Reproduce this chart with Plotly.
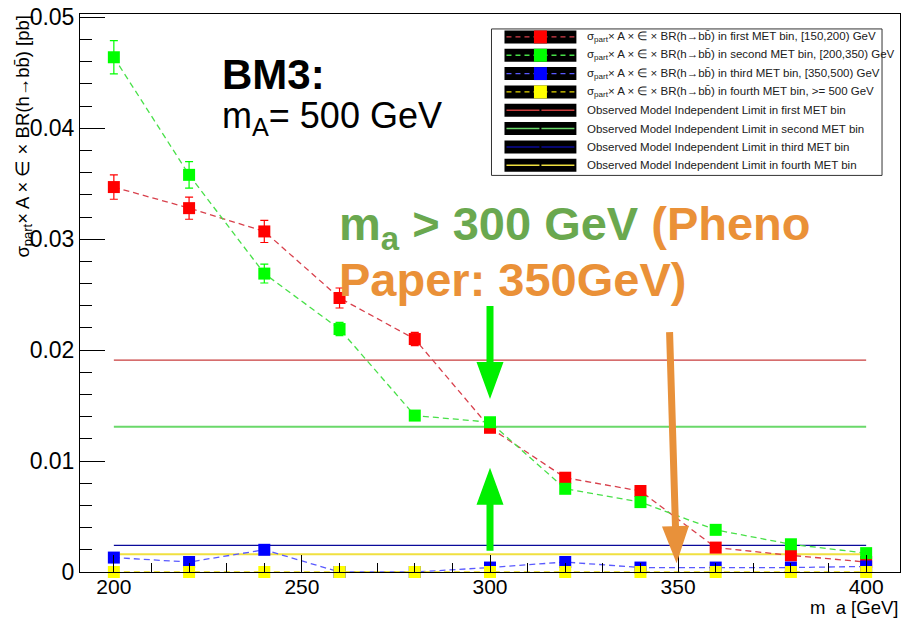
import numpy as np
import plotly.graph_objects as go

# ---- data -------------------------------------------------------------
mass = [200, 220, 240, 260, 280, 300, 320, 340, 360, 380, 400]

xs_bin1 = [0.0347, 0.0328, 0.0307, 0.0247, 0.0210, 0.0130, 0.0085, 0.0073, 0.0022, 0.0015, 0.0009]
err_bin1 = [0.0011, 0.0010, 0.0010, 0.0009, 0.0006, 0.0003, 0.0002, 0.0002, 0.0001, 0.0001, 0.0001]

xs_bin2 = [0.0464, 0.0358, 0.0269, 0.0219, 0.0141, 0.0135, 0.0075, 0.0063, 0.0038, 0.0025, 0.0017]
err_bin2 = [0.0015, 0.0012, 0.00085, 0.0006, 0.0003, 0.0003, 0.0002, 0.0002, 0.0001, 0.0001, 0.0001]

xs_bin3 = [0.0013, 0.0009, 0.0020, 0.0000, 0.0000, 0.0004, 0.0009, 0.0004, 0.0004, 0.0004, 0.0005]
err_bin3 = [0.0002, 0.0002, 0.0002, 0.0000, 0.0000, 0.0002, 0.0002, 0.0001, 0.0001, 0.0001, 0.0001]

xs_bin4 = [0.0, 0.0, 0.0, 0.0, 0.0, 0.0, 0.0, 0.0, 0.0, 0.0, 0.0]
err_bin4 = [0.0] * 11

obs_limits = [0.0191, 0.0131, 0.0024, 0.0016]

series_labels = [
    "σ<sub>part</sub>× A × ∈ × BR(h→bb̄) in first MET bin, [150,200) GeV",
    "σ<sub>part</sub>× A × ∈ × BR(h→bb̄) in second MET bin, [200,350) GeV",
    "σ<sub>part</sub>× A × ∈ × BR(h→bb̄) in third MET bin, [350,500) GeV",
    "σ<sub>part</sub>× A × ∈ × BR(h→bb̄) in fourth MET bin, >= 500 GeV",
]
limit_labels = [
    "Observed Model Independent Limit in first MET bin",
    "Observed Model Independent Limit in second MET bin",
    "Observed Model Independent Limit in third MET bin",
    "Observed Model Independent Limit in fourth MET bin",
]

x_ticks = [200, 250, 300, 350, 400]
y_ticks = [0, 0.01, 0.02, 0.03, 0.04, 0.05]
y_ticktext = ["0", "0.01", "0.02", "0.03", "0.04", "0.05"]

# ---- styles -----------------------------------------------------------
marker_colors = ["#ff0000", "#00ff00", "#0000ff", "#ffff00"]
dash_colors = ["#d8404c", "#48e048", "#5a5aff", "#e8d800"]
limit_colors = ["#c83c3c", "#6ad86a", "#0a0a9a", "#f0e040"]
limit_widths = [1.3, 2, 1.3, 2]

FONT = "Liberation Sans, Arial, sans-serif"

W, H = 905, 620
L, R, T, B = 80, 4, 12, 48
PW, PH = W - L - R, H - T - B


def px(x):
    return (x - L) / PW


def py(y):
    return (H - B - y) / PH


fig = go.Figure()

# observed limits (horizontal lines across the mass range)
for lim, col, lw in zip(obs_limits, limit_colors, limit_widths):
    fig.add_trace(go.Scatter(
        x=[mass[0], mass[-1]], y=[lim, lim], mode="lines",
        line=dict(color=col, width=lw), hoverinfo="skip", showlegend=False))

# cross-section curves
for ys, es, mc, dc in zip([xs_bin1, xs_bin2, xs_bin3, xs_bin4],
                          [err_bin1, err_bin2, err_bin3, err_bin4],
                          marker_colors, dash_colors):
    fig.add_trace(go.Scatter(
        x=mass, y=ys, mode="lines+markers", cliponaxis=False,
        line=dict(color=dc, width=1.3, dash="6px,4px"),
        marker=dict(symbol="square", size=12, color=mc, line=dict(width=0)),
        error_y=dict(type="data", array=es, visible=True, color=mc,
                     thickness=1.2, width=4),
        showlegend=False))

# ---- legend box drawn by hand -----------------------------------------
shapes = []
annotations = []
lx0, lx1, ly0, ly1 = 492, 883, 27, 174
shapes.append(dict(type="rect", xref="paper", yref="paper",
                   x0=px(lx0), x1=px(lx1), y0=py(ly1), y1=py(ly0),
                   line=dict(color="#333333", width=1), fillcolor="white", layer="above"))
row_y = [35 + i * 18.4 for i in range(8)]
sx0, sx1, sq = 505, 577, 541
for i, yc in enumerate(row_y):
    shapes.append(dict(type="rect", xref="paper", yref="paper",
                       x0=px(sx0), x1=px(sx1), y0=py(yc + 6.5), y1=py(yc - 6.5),
                       line=dict(width=0), fillcolor="black", layer="above"))
    if i < 4:
        shapes.append(dict(type="line", xref="paper", yref="paper",
                           x0=px(sx0 + 2), x1=px(sx1 - 2), y0=py(yc), y1=py(yc),
                           line=dict(color=dash_colors[i], width=1.3, dash="5px,4px"),
                           layer="above"))
        shapes.append(dict(type="rect", xref="paper", yref="paper",
                           x0=px(sq - 6.5), x1=px(sq + 6.5), y0=py(yc + 6.5), y1=py(yc - 6.5),
                           line=dict(width=0), fillcolor=marker_colors[i], layer="above"))
        label = series_labels[i]
    else:
        j = i - 4
        for a, b in [(sx0 + 2, sq - 1), (sq + 1, sx1 - 2)]:
            shapes.append(dict(type="line", xref="paper", yref="paper",
                               x0=px(a), x1=px(b), y0=py(yc), y1=py(yc),
                               line=dict(color=limit_colors[j], width=1.5), layer="above"))
        label = limit_labels[j]
    annotations.append(dict(x=px(586), y=py(yc), xref="paper", yref="paper",
                            text=label, showarrow=False, xanchor="left", yanchor="middle",
                            font=dict(family=FONT, size=11.5, color="#202020")))

# ---- arrows -----------------------------------------------------------
def arrow_path(dx, dy, head_len, head_w, shaft_w):
    """Filled arrow in pixels, tip at the origin, tail at (dx, dy), y up."""
    length = np.hypot(dx, dy)
    ux, uy = dx / length, dy / length
    nx, ny = -uy, ux
    bx, by = ux * head_len, uy * head_len
    pts = [(0, 0),
           (bx + nx * head_w / 2, by + ny * head_w / 2),
           (bx + nx * shaft_w / 2, by + ny * shaft_w / 2),
           (dx + nx * shaft_w / 2, dy + ny * shaft_w / 2),
           (dx - nx * shaft_w / 2, dy - ny * shaft_w / 2),
           (bx - nx * shaft_w / 2, by - ny * shaft_w / 2),
           (bx - nx * head_w / 2, by - ny * head_w / 2)]
    return "M" + " L".join(f"{x:.1f},{y:.1f}" for x, y in pts) + " Z"


arrows = [
    # (anchor x, anchor y, tail dx, tail dy, colour)
    (300, 0.0156, 0, 93, "#00f000"),
    (300, 0.0094, 0, -83, "#00f000"),
    (349.6, 0.0008, -7, 231, "#e8913a"),
]
for ax_, ay_, dx, dy, col in arrows:
    shapes.append(dict(type="path", xref="x", yref="y",
                       xsizemode="pixel", ysizemode="pixel",
                       xanchor=ax_, yanchor=ay_,
                       path=arrow_path(dx, dy, 37, 27, 7),
                       fillcolor=col, line=dict(width=0), layer="above"))

# ---- text -------------------------------------------------------------
annotations += [
    dict(x=px(220), y=py(47), xref="paper", yref="paper", showarrow=False,
         xanchor="left", yanchor="top", text="<b>BM3:</b>",
         font=dict(family=FONT, size=42, color="black")),
    dict(x=px(220), y=py(91), xref="paper", yref="paper", showarrow=False,
         xanchor="left", yanchor="top", text="m<sub>A</sub>= 500 GeV",
         font=dict(family=FONT, size=36, color="black")),
    dict(x=px(337), y=py(194), xref="paper", yref="paper", showarrow=False,
         xanchor="left", yanchor="top",
         text="<b>m<sub>a</sub> > 300 GeV <span style='color:#ea9138'>(Pheno</span></b>",
         font=dict(family=FONT, size=47, color="#6aa84f")),
    dict(x=px(337), y=py(250), xref="paper", yref="paper", showarrow=False,
         xanchor="left", yanchor="top", text="<b>Paper: 350GeV)</b>",
         font=dict(family=FONT, size=47, color="#ea9138")),
    dict(x=px(23), y=py(11), xref="paper", yref="paper", showarrow=False,
         xanchor="center", yanchor="top", textangle=-90,
         text="σ<sub>part</sub>× A × ∈ × BR(h→bb̄) [pb]",
         font=dict(family=FONT, size=18.5, color="black")),
    dict(x=px(901), y=py(620), xref="paper", yref="paper", showarrow=False,
         xanchor="right", yanchor="bottom", text="m  a [GeV]",
         font=dict(family=FONT, size=18.5, color="black")),
]

fig.update_layout(
    width=W, height=H,
    margin=dict(l=L, r=R, t=T, b=B),
    paper_bgcolor="white", plot_bgcolor="white",
    font=dict(family=FONT, color="black"),
    shapes=shapes, annotations=annotations,
    showlegend=False,
)
fig.update_xaxes(
    range=[191, 409], tickvals=x_ticks, ticks="inside", ticklen=17, tickcolor="black",
    tickfont=dict(family=FONT, size=21, color="black"), ticklabelstandoff=-4,
    minor=dict(dtick=10, tick0=200, ticks="inside", ticklen=9, tickcolor="black"),
    showline=True, linecolor="black", linewidth=1, mirror=True,
    showgrid=False, zeroline=False,
)
fig.update_yaxes(
    range=[0, 0.0503], tickvals=y_ticks, ticktext=y_ticktext,
    ticks="inside", ticklen=25, tickcolor="black",
    tickfont=dict(family=FONT, size=23, color="black"),
    minor=dict(dtick=0.002, tick0=0, ticks="inside", ticklen=12, tickcolor="black"),
    showline=True, linecolor="black", linewidth=1, mirror=True,
    showgrid=False, zeroline=False,
)

fig.write_html("out.html")
